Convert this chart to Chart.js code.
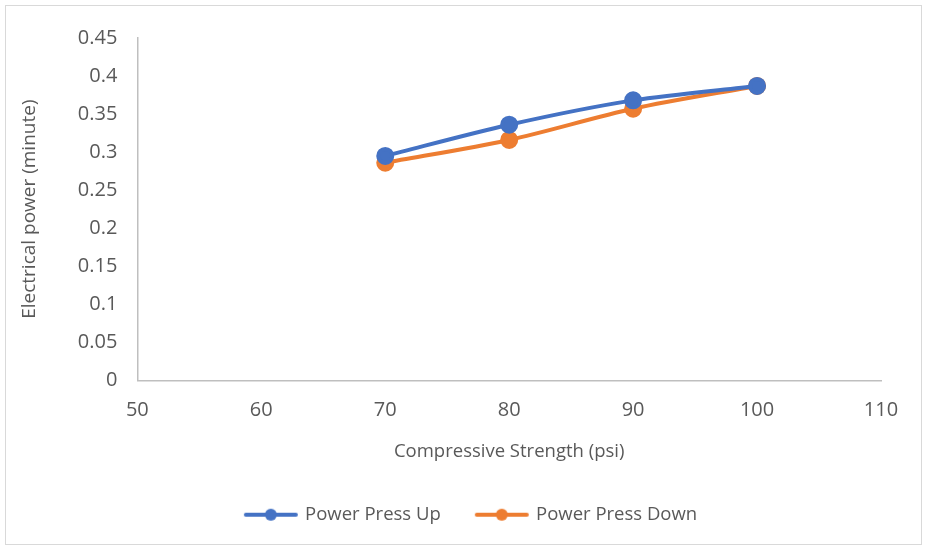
<!DOCTYPE html>
<html>
<head>
<meta charset="utf-8">
<script src="https://cdn.jsdelivr.net/npm/chart.js@4"></script>
<style>
    body { margin: 0; background: #fff; }
    #box { position: absolute; left: 5px; top: 5px; width: 915px; height: 538px; border: 1px solid #d9d9d9; }
</style>
</head>
<body>
<div id="box"><canvas id="chart" width="915" height="538"></canvas></div>
<script>
var xValues = [70, 80, 90, 100];
var upValues = [0.295, 0.336, 0.368, 0.387];
var downValues = [0.286, 0.316, 0.357, 0.387];
var seriesNames = ["Power Press Up", "Power Press Down"];
var seriesColors = ["#4472c4", "#ed7d31"];

var font = "'Open Sans', 'Liberation Sans', sans-serif";
var grey = "#595959";

// legend symbol: line with a dot in the middle
var legendIcon = color => {
    var c = document.createElement("canvas");
    c.width = 56; c.height = 14;
    var g = c.getContext("2d");
    g.strokeStyle = color;
    g.lineWidth = 4;
    g.lineCap = "round";
    g.beginPath(); g.moveTo(3, 7); g.lineTo(53, 7); g.stroke();
    g.fillStyle = color;
    g.beginPath(); g.arc(28, 7, 6, 0, Math.PI * 2); g.fill();
    return c;
};
var icons = seriesColors.map(legendIcon);

var makeSet = (i, vals) => ({
    label: seriesNames[i],
    data: xValues.map((x, k) => ({ x: x, y: vals[k] })),
    borderColor: seriesColors[i],
    backgroundColor: seriesColors[i],
    borderWidth: 4,
    pointRadius: 7,
    pointHoverRadius: 7,
    tension: 0.3
});

// the legend sits a bit right of centre in the original
var legendShift = {
    id: "legendShift",
    afterLayout: c => { c.legend.left += 24; c.legend.right += 24; }
};

const ctx = document.getElementById("chart").getContext("2d");
var chart = new Chart(ctx, {
    type: "line",
    data: { datasets: [makeSet(0, upValues), makeSet(1, downValues)] },
    plugins: [legendShift],
    options: {
        responsive: false,
        animation: false,
        layout: { padding: { left: 8, right: 40, top: 18, bottom: 10 } },
        scales: {
            x: {
                type: "linear", min: 50, max: 110,
                ticks: { stepSize: 10, color: grey, font: { family: font, size: 20 }, padding: 18 },
                grid: { display: false, drawTicks: false },
                border: { color: "#bfbfbf", width: 1.5 },
                title: { display: true, text: "Compressive Strength (psi)", color: grey, font: { family: font, size: 18.5 }, padding: { top: 0, bottom: 7 } }
            },
            y: {
                min: 0, max: 0.45,
                ticks: { stepSize: 0.05, color: grey, font: { family: font, size: 20 }, padding: 20,
                    callback: v => +v.toFixed(2) },
                grid: { display: false, drawTicks: false },
                border: { color: "#bfbfbf", width: 1.5 },
                title: { display: true, text: "Electrical power (minute)", color: grey, font: { family: font, size: 19 }, padding: { top: 4, bottom: 17 } }
            }
        },
        plugins: {
            legend: {
                position: "bottom",
                labels: {
                    usePointStyle: true,
                    pointStyleWidth: 50,
                    color: grey,
                    font: { family: font, size: 18.5 },
                    padding: 36,
                    generateLabels: c => c.data.datasets.map((d, i) => ({
                        text: d.label, pointStyle: icons[i], fillStyle: d.borderColor,
                        strokeStyle: d.borderColor, lineWidth: 0, datasetIndex: i, fontColor: grey
                    }))
                }
            },
            tooltip: { enabled: false }
        }
    }
});
</script>
</body>
</html>
